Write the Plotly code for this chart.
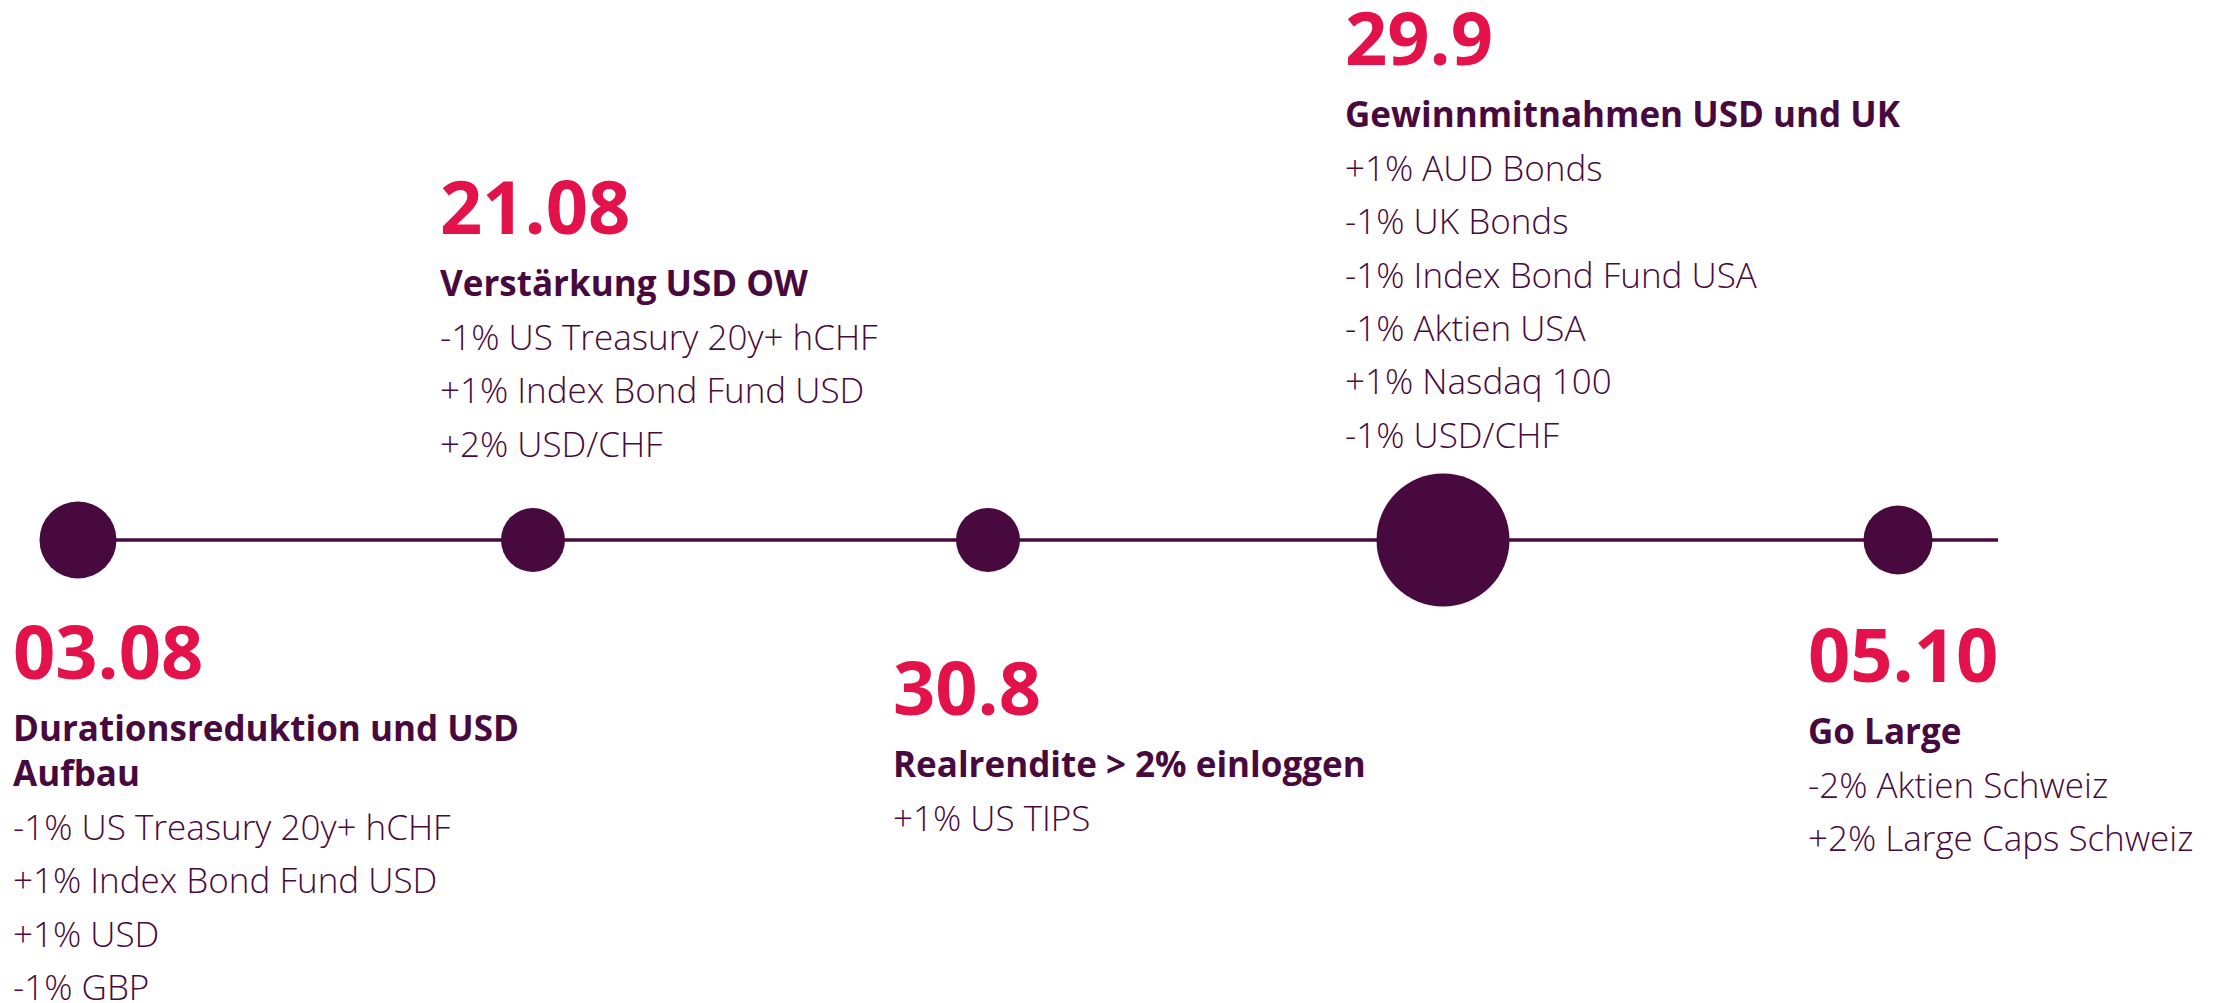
import plotly.graph_objects as go

# ---------------- data ----------------
dates = ["03.08", "21.08", "30.8", "29.9", "05.10"]
event_order = [0, 1, 2, 3, 4]          # ordinal position on the timeline
titles = [
    ["Durationsreduktion und USD", "Aufbau"],
    ["Verstärkung USD OW"],
    ["Realrendite > 2% einloggen"],
    ["Gewinnmitnahmen USD und UK"],
    ["Go Large"],
]
moves = [
    ["-1% US Treasury 20y+ hCHF", "+1% Index Bond Fund USD", "+1% USD", "-1% GBP"],
    ["-1% US Treasury 20y+ hCHF", "+1% Index Bond Fund USD", "+2% USD/CHF"],
    ["+1% US TIPS"],
    ["+1% AUD Bonds", "-1% UK Bonds", "-1% Index Bond Fund USA", "-1% Aktien USA",
     "+1% Nasdaq 100", "-1% USD/CHF"],
    ["-2% Aktien Schweiz", "+2% Large Caps Schweiz"],
]

# ---------------- style / layout ----------------
W, H = 2234, 1003
PURPLE = "#480A3E"
RED = "#E3124B"
FONT = "Open Sans"
node_size = [77, 64, 64, 133, 69]          # marker diameters (px)
text_left_px = [12, 439, 892, 1344, 1807]  # left edge of each text block
date_baseline_px = [679, 234, 715, 65, 682]
DATE_FS, TITLE_FS, BODY_FS = 74, 35, 35
TITLE_GAP, TITLE_LINE, BODY_GAP, BODY_LINE = 62, 45, 54, 53.4
LINE_Y_PX = 540
X0_PX, STEP_PX = 78, 455
TAIL = 0.22
BASE_K = 0.39   # middle of text box above baseline, in em


def px_to_paper_y(py):
    return 1 - py / H


def px_to_paper_x(px):
    return px / W


fig = go.Figure()

# timeline line
fig.add_trace(go.Scatter(
    x=[event_order[0], event_order[-1] + TAIL], y=[0, 0], mode="lines",
    line=dict(color=PURPLE, width=3.5), hoverinfo="skip", showlegend=False))

# nodes
fig.add_trace(go.Scatter(
    x=event_order, y=[0] * len(event_order), mode="markers",
    marker=dict(size=node_size, color=PURPLE, line=dict(width=0), opacity=1),
    text=dates, hoverinfo="text", showlegend=False))

annotations = []


def add_text(txt, left_px, baseline_px, fs, color, weight):
    annotations.append(dict(
        text=txt, xref="paper", yref="paper",
        x=px_to_paper_x(left_px), y=px_to_paper_y(baseline_px - BASE_K * fs),
        xanchor="left", yanchor="middle", showarrow=False, borderpad=0,
        font=dict(family=FONT, size=fs, color=color, weight=weight)))


for i in range(len(dates)):
    left = text_left_px[i]
    b = date_baseline_px[i]
    add_text(dates[i], left, b, DATE_FS, RED, 700)
    b += TITLE_GAP
    for k, t in enumerate(titles[i]):
        if k > 0:
            b += TITLE_LINE
        add_text(t, left, b, TITLE_FS, PURPLE, 700)
    b += BODY_GAP
    for k, m in enumerate(moves[i]):
        if k > 0:
            b += BODY_LINE
        add_text(m, left, b, BODY_FS, PURPLE, 300)

fig.update_layout(
    width=W, height=H, margin=dict(l=0, r=0, t=0, b=0),
    paper_bgcolor="white", plot_bgcolor="white",
    xaxis=dict(range=[-X0_PX / STEP_PX, (W - X0_PX) / STEP_PX], visible=False, fixedrange=True),
    yaxis=dict(range=[H - LINE_Y_PX, -LINE_Y_PX], visible=False, fixedrange=True),
    annotations=annotations, showlegend=False,
)

fig.write_html("out.html", config={"displayModeBar": False},
               post_script="document.body.style.margin='0';document.body.style.overflow='hidden';")
